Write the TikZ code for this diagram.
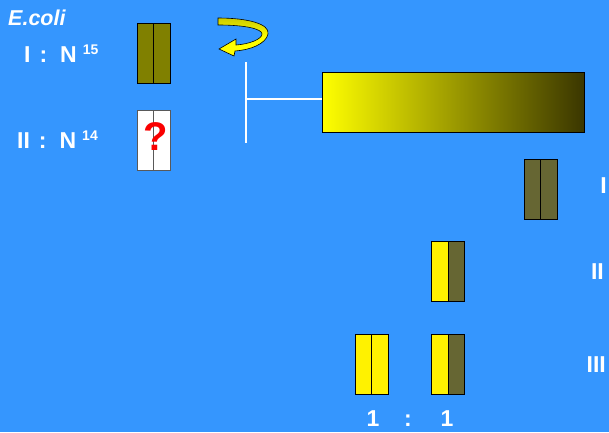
\documentclass[tikz,border=0pt]{standalone}
\usepackage{fontspec}
\setmainfont{Liberation Sans}
\definecolor{bg}{RGB}{53,150,254}
\definecolor{olive1}{RGB}{128,128,0}
\definecolor{olive2}{RGB}{102,102,51}
\definecolor{darkend}{RGB}{58,54,0}
\definecolor{qred}{RGB}{250,0,0}
\tikzset{
  lbl/.style={text=white,font=\fontsize{23}{26}\selectfont\bfseries,inner sep=0pt},
  box/.style={draw=black,line width=0.9pt}
}
\newcommand{\supnum}[1]{\raisebox{8pt}{\fontsize{14}{14}\selectfont #1}}
\begin{document}
\begin{tikzpicture}[x=1pt,y=-1pt]
\fill[bg] (0,0) rectangle (609,432);
\useasboundingbox (0,0) rectangle (609,432);
% E.coli
\node[lbl,anchor=base west,font=\fontsize{21.5}{24}\selectfont\bfseries\itshape] (ecoli) at (8,25) {E.coli};
% left labels
\node[lbl,anchor=base west] (l1) at (24,62) {I\hspace{9pt}:\hspace{13pt}N\hspace{6pt}\supnum{15}};
\node[lbl,anchor=base west] (l2) at (17,148) {II\hspace{9pt}:\hspace{13pt}N\hspace{6pt}\supnum{14}};
% N15 box
\fill[olive1] (137,23) rectangle (170,83);
\draw[box] (137,23) rectangle (170,83);
\draw[box] (153.5,23) -- (153.5,83);
% N14 box
\fill[white] (137,110) rectangle (170,170);
\draw[draw=gray!70!black,line width=0.9pt] (137,110) rectangle (170,170) (153.5,110) -- (153.5,170);
\node[text=qred,font=\fontsize{40}{42}\selectfont\bfseries,inner sep=0pt] (q) at (156,137) {?};
% curved arrow
\draw[black,line width=0.6pt,top color=yellow!80!black,bottom color=yellow,middle color=yellow]
 (218,18) .. controls (248,18) and (270,24) .. (268,34)
 .. controls (266,44) and (250,50) .. (235,51) -- (234,56) -- (219,49) -- (236,39) -- (236,45)
 .. controls (250,44) and (262,39) .. (262,34)
 .. controls (262,29) and (246,25) .. (218,25) -- cycle;
% white T line
\coordinate (ttop) at (246,62);
\coordinate (tbot) at (246,143);
\coordinate (tmid) at (246,99);
\draw[white,line width=2.2pt] (ttop) -- (tbot);
% gradient bar
\shade[left color=yellow,right color=darkend] (322,72) rectangle (584,132);
\draw[box] (322,72) rectangle (584,132);
\node[inner sep=0pt,minimum size=0pt] (bar) at (322,99) {};
\draw[white,line width=2.2pt] (tmid) -- (bar.center);
% generation I
\fill[olive2] (524,159) rectangle (557,219);
\draw[box] (524,159) rectangle (557,219) (540.5,159) -- (540.5,219);
% generation II
\fill[yellow] (431,241) rectangle (448,301);
\fill[olive2] (448,241) rectangle (464,301);
\draw[box] (431,241) rectangle (464,301) (448,241) -- (448,301);
% generation III
\fill[yellow] (355,334) rectangle (388,394);
\draw[box] (355,334) rectangle (388,394) (371.5,334) -- (371.5,394);
\fill[yellow] (431,334) rectangle (448,394);
\fill[olive2] (448,334) rectangle (464,394);
\draw[box] (431,334) rectangle (464,394) (448,334) -- (448,394);
% right labels
\node[lbl,anchor=base east] (r1) at (607,193) {I};
\node[lbl,anchor=base east] (r2) at (604,279) {II};
\node[lbl,anchor=base east] (r3) at (606,372) {III};
% ratio
\node[lbl,anchor=base] (one1) at (373,426) {1};
\node[lbl,anchor=base] (colon) at (408,426) {:};
\node[lbl,anchor=base] (one2) at (447,426) {1};
\end{tikzpicture}
\end{document}
